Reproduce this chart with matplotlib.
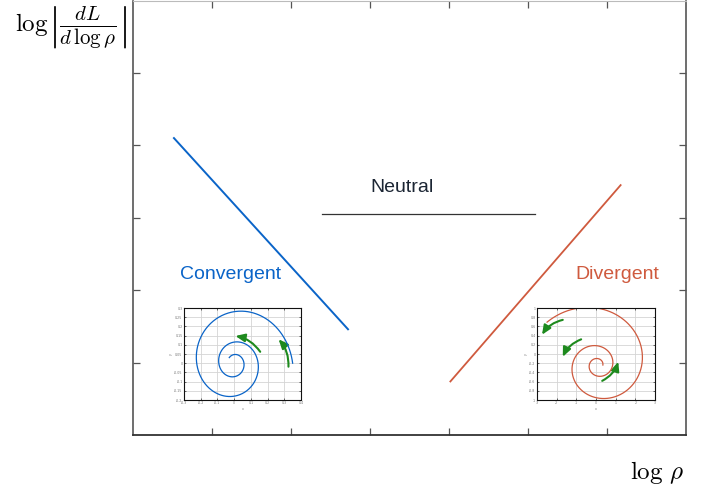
import numpy as np
import matplotlib
matplotlib.use("Agg")
import matplotlib.pyplot as plt
from matplotlib.patches import FancyArrowPatch

plt.rcParams['mathtext.fontset'] = 'cm'

# ---- main chart data (axis units: x 0..7, y 0..6) ----
conv_x = [0.51, 2.73]
conv_y = [4.11, 1.45]
neut_x = [2.39, 5.09]
neut_y = [3.05, 3.05]
div_x = [4.01, 6.18]
div_y = [0.73, 3.46]

label_names = ["Convergent", "Neutral", "Divergent"]
label_x = [1.24, 3.41, 6.13]
label_y = [2.22, 3.42, 2.21]

x_ticks = [1, 2, 3, 4, 5, 6]
y_ticks = [1, 2, 3, 4, 5]

# ---- inset spirals (parameters) ----
blue_spiral_end_r = 0.35
blue_spiral_growth = 0.142
blue_spiral_turn_end = 14.9
blue_spiral_center = (0.0, 0.0)
blue_arrows = [((0.156, 0.062), (0.008, 0.148)),
               ((0.325, -0.019), (0.266, 0.130))]
blue_xticks = [-0.3, -0.2, -0.1, 0, 0.1, 0.2, 0.3, 0.4]
blue_yticks = [-0.2, -0.15, -0.1, -0.05, 0, 0.05, 0.1, 0.15, 0.2, 0.25, 0.3]

red_spiral_end_rx = 3.40
red_spiral_end_ry = 1.434
red_spiral_growth = 0.173
red_spiral_turn_end = 15.0
red_spiral_center = (0.095, -0.24)
red_arrows = [((-1.69, 0.742), (-2.745, 0.419)),
              ((-0.755, 0.319), (-1.69, -0.061)),
              ((0.316, -0.584), (1.133, -0.168))]
red_xticks = [-3, -2, -1, 0, 1, 2, 3]
red_yticks = [-1, -0.8, -0.6, -0.4, -0.2, 0, 0.2, 0.4, 0.6, 0.8, 1]

BLUE = "#0a64c8"
RED = "#cf5a3e"
GREEN = "#1e8a1e"
NAVY = "#1b2533"

fig = plt.figure(figsize=(7.11, 4.92), dpi=100)
ax = fig.add_axes([133/711, 1-435/492, 553/711, 434.5/492])
ax.set_xlim(0, 7)
ax.set_ylim(0, 6)
ax.plot(conv_x, conv_y, color=BLUE, lw=1.4, solid_capstyle='butt')
ax.plot(neut_x, neut_y, color="#333333", lw=0.9)
ax.plot(div_x, div_y, color=RED, lw=1.3, solid_capstyle='butt')
colors = [BLUE, NAVY, RED]
for name, lx, ly, c in zip(label_names, label_x, label_y, colors):
    ax.text(lx, ly, name, color=c, ha='center', va='center',
            fontsize=14, family='Liberation Sans')
ax.set_xticks(x_ticks)
ax.set_yticks(y_ticks)
ax.set_xticklabels([])
ax.set_yticklabels([])
ax.tick_params(direction='in', length=5, width=0.9, color='#555555',
               top=True, right=True)
for s in ['left', 'right']:
    ax.spines[s].set_color('#555555')
    ax.spines[s].set_linewidth(1.2)
ax.spines['bottom'].set_color('#333333')
ax.spines['bottom'].set_linewidth(1.3)
ax.spines['top'].set_color('#bbbbbb')

# y label: "log" plus a |fraction| drawn slightly larger
fig.text(15/711, 1-31/492, r"$\log$", ha='left', va='baseline', fontsize=18)
fig.text(87/711, 1-28/492, r"$\left|\frac{dL}{d\,\log\rho}\right|$",
         ha='center', va='center', fontsize=21.5)
fig.text(657/711, 1-473/492, r"$\log\,\rho$", ha='center', va='center',
         fontsize=18)


def style_inset(a, xt, yt):
    a.set_xticks(xt)
    a.set_yticks(yt)
    a.set_xticklabels([("%g" % v) for v in xt])
    a.set_yticklabels([("%g" % v) for v in yt])
    a.tick_params(labelsize=2.3, length=1.5, width=0.4, pad=1,
                  labelcolor='#777777', direction='in', top=True, right=True)
    a.grid(True, color='#d4d4d4', lw=0.6)
    a.set_axisbelow(True)
    for s in a.spines.values():
        s.set_color('#111111')
        s.set_linewidth(0.8)
    a.set_xlabel("x", fontsize=2.3, labelpad=1, color='#777777')
    a.set_ylabel("y", fontsize=2.3, labelpad=1, color='#777777')


def add_arrows(a, arrows):
    for (t, h) in arrows:
        p = FancyArrowPatch(t, h, connectionstyle="arc3,rad=0.2",
                            arrowstyle="-|>,head_length=0.55,head_width=0.24",
                            mutation_scale=10, color=GREEN, lw=1.5,
                            shrinkA=0, shrinkB=0)
        a.add_patch(p)


# blue inset
axb = fig.add_axes([184/711, 1-400/492, 117/711, 92/492])
phi = np.linspace(0, blue_spiral_turn_end, 800)
r = blue_spiral_end_r * np.exp(-blue_spiral_growth * phi)
axb.plot(blue_spiral_center[0] + r*np.cos(phi),
         blue_spiral_center[1] + r*np.sin(phi), color=BLUE, lw=0.9)
axb.set_xlim(-0.3, 0.4)
axb.set_ylim(-0.2, 0.3)
style_inset(axb, blue_xticks, blue_yticks)
add_arrows(axb, blue_arrows)

# red inset
axr = fig.add_axes([537/711, 1-400/492, 118/711, 92/492])
phi = np.linspace(0, red_spiral_turn_end, 800)
f = np.exp(red_spiral_growth * (phi - red_spiral_turn_end))
axr.plot(red_spiral_center[0] + red_spiral_end_rx*f*np.cos(phi),
         red_spiral_center[1] + red_spiral_end_ry*f*np.sin(phi),
         color=RED, lw=0.9)
axr.set_xlim(-3, 3)
axr.set_ylim(-1, 1)
style_inset(axr, red_xticks, red_yticks)
add_arrows(axr, red_arrows)

fig.savefig("out.png", dpi=100)
